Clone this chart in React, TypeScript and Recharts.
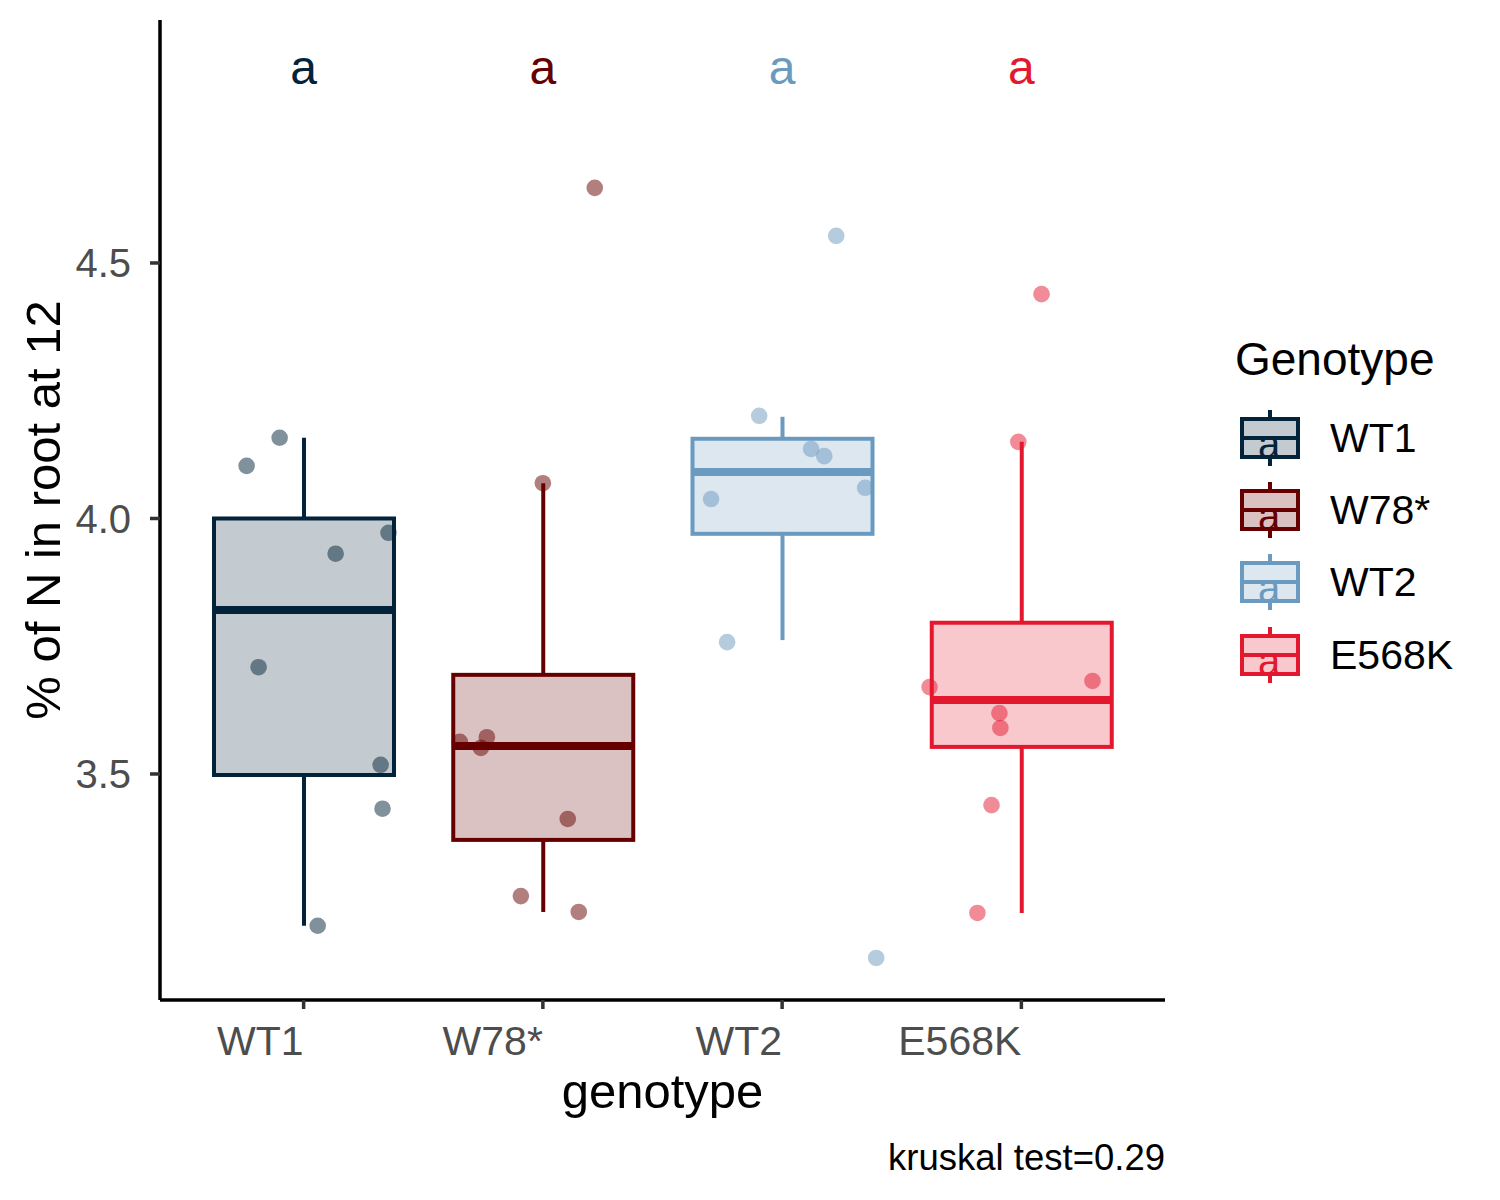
import React from "react";
import { ComposedChart, Bar, Scatter, XAxis, YAxis, Label } from "recharts";

const FONT = '"Liberation Sans", Arial, Helvetica, sans-serif';

const genotypes = ["WT1", "W78*", "WT2", "E568K"];
const colors = ["#03233A", "#660000", "#6B9AC0", "#E3182F"];

// box statistics
const whiskerLow = [3.203, 3.23, 3.762, 3.228];
const q1 = [3.498, 3.371, 3.97, 3.553];
const median = [3.821, 3.555, 4.091, 3.645];
const q3 = [4.0, 3.694, 4.156, 3.796];
const whiskerHigh = [4.158, 4.069, 4.199, 4.15];

// jittered observations: [offset from group centre, value]
const wt1Points = [
  [-0.238, 4.103], [-0.1, 4.158], [0.134, 3.931], [0.355, 3.972],
  [-0.188, 3.709], [0.322, 3.518], [0.33, 3.432], [0.059, 3.203],
];
const w78Points = [
  [0.217, 4.647], [0.0, 4.069], [-0.347, 3.563], [-0.234, 3.572],
  [-0.259, 3.551], [0.104, 3.412], [-0.092, 3.261], [0.15, 3.23],
];
const wt2Points = [
  [0.226, 4.553], [-0.096, 4.201], [0.121, 4.136], [0.176, 4.122],
  [0.347, 4.06], [-0.297, 4.038], [-0.23, 3.758], [0.393, 3.14],
];
const e568kPoints = [
  [0.084, 4.439], [-0.013, 4.15], [-0.384, 3.67], [0.297, 3.682],
  [-0.092, 3.619], [-0.088, 3.59], [-0.125, 3.439], [-0.184, 3.228],
];
const pointSets = [wt1Points, w78Points, wt2Points, e568kPoints];

const letters = ["a", "a", "a", "a"];
const letterY = 4.878;
const yTicks = [3.5, 4.0, 4.5];
const yDomain = [3.0577, 4.9755];
const caption = "kruskal test=0.29";

const boxRows = genotypes.map((g, i) => ({
  genotype: g,
  lower: [whiskerLow[i], q1[i]],
  box: [q1[i], q3[i]],
  upper: [q3[i], whiskerHigh[i]],
}));
const medianRows = median.map((m, i) => ({ x: i + 1, y: m, g: i }));
const letterRows = letters.map((l, i) => ({ x: i + 1, y: letterY, g: i, label: l }));
const pointRows = pointSets.map((pts, i) =>
  pts.map(([dx, v]) => ({ x: i + 1 + dx, y: v }))
);

const BOX_W = 180;

const colorOf = (payload: any) => colors[genotypes.indexOf(payload?.genotype)] ?? "#000";

const WhiskerShape = (props: any) => {
  const { x, y, width, height, payload } = props;
  const cx = x + width / 2;
  const top = Math.min(y, y + height);
  const bottom = Math.max(y, y + height);
  return <line x1={cx} x2={cx} y1={top} y2={bottom} stroke={colorOf(payload)} strokeWidth={4} />;
};

const BoxShape = (props: any) => {
  const { x, y, width, height, payload } = props;
  const c = colorOf(payload);
  return (
    <rect
      x={x}
      y={Math.min(y, y + height)}
      width={width}
      height={Math.abs(height)}
      fill={c}
      fillOpacity={0.24}
      stroke={c}
      strokeWidth={4}
    />
  );
};

const MedianShape = (props: any) => {
  const { cx, cy, payload } = props;
  return (
    <line
      x1={cx - BOX_W / 2}
      x2={cx + BOX_W / 2}
      y1={cy}
      y2={cy}
      stroke={colors[payload.g]}
      strokeWidth={8}
    />
  );
};

const LetterShape = (props: any) => {
  const { cx, cy, payload } = props;
  return (
    <text
      x={cx}
      y={cy}
      dy="0.3em"
      textAnchor="middle"
      fontSize={48}
      fontFamily={FONT}
      fill={colors[payload.g]}
    >
      {payload.label}
    </text>
  );
};

const pointShape = (color: string) => (props: any) => (
  <circle cx={props.cx} cy={props.cy} r={8.3} fill={color} fillOpacity={0.5} />
);

const XTick = (props: any) => {
  const { x, y, payload } = props;
  return (
    <text x={x} y={y} dy="0.71em" textAnchor="end" fontSize={41} fill="#4D4D4D" fontFamily={FONT}>
      {payload.value}
    </text>
  );
};

const XTitle = (props: any) => {
  const vb = props.viewBox ?? { x: 160, y: 1000, width: 1005, height: 120 };
  return (
    <text x={vb.x + vb.width / 2} y={1108} textAnchor="middle" fontSize={49} fill="#000" fontFamily={FONT}>
      genotype
    </text>
  );
};

const YTitle = (props: any) => {
  const vb = props.viewBox ?? { x: 80, y: 20, width: 80, height: 980 };
  const cx = 60;
  const cy = vb.y + vb.height / 2;
  return (
    <text
      x={cx}
      y={cy}
      transform={`rotate(-90 ${cx} ${cy})`}
      textAnchor="middle"
      fontSize={49}
      fill="#000"
      fontFamily={FONT}
    >
      % of N in root at 12
    </text>
  );
};

function LegendOverlay() {
  const rowY = [438, 510, 582, 655];
  return (
    <svg
      width={1500}
      height={1200}
      style={{ position: "absolute", left: 0, top: 0, pointerEvents: "none" }}
    >
      <text x={1235} y={375} fontSize={46} fontFamily={FONT} fill="#000">
        Genotype
      </text>
      {genotypes.map((g, i) => {
        const cy = rowY[i];
        const c = colors[i];
        return (
          <g key={g}>
            <line x1={1270} x2={1270} y1={cy - 28} y2={cy - 19} stroke={c} strokeWidth={4} />
            <line x1={1270} x2={1270} y1={cy + 19} y2={cy + 28} stroke={c} strokeWidth={4} />
            <rect x={1242} y={cy - 19} width={56} height={38} fill={c} fillOpacity={0.24} stroke={c} strokeWidth={4} />
            <line x1={1242} x2={1298} y1={cy} y2={cy} stroke={c} strokeWidth={4} />
            <text x={1269} y={cy + 20} textAnchor="middle" fontSize={40} fontFamily={FONT} fill={c}>
              a
            </text>
            <text x={1330} y={cy + 14} fontSize={41} fontFamily={FONT} fill="#000">
              {g}
            </text>
          </g>
        );
      })}
      <text x={1165} y={1170} textAnchor="end" fontSize={36.5} fontFamily={FONT} fill="#000">
        {caption}
      </text>
    </svg>
  );
}

export default function App() {
  return (
    <div style={{ position: "absolute", left: 0, top: 0, width: 1500, height: 1200, background: "#fff" }}>
      <ComposedChart
        width={1500}
        height={1200}
        data={boxRows}
        margin={{ top: 20, right: 335, bottom: 80, left: 80 }}
        barGap={-BOX_W}
      >
        <XAxis
          xAxisId="cat"
          dataKey="genotype"
          type="category"
          height={120}
          padding={{ left: 24, right: 24 }}
          axisLine={{ stroke: "#000", strokeWidth: 3.5 }}
          tickLine={{ stroke: "#333", strokeWidth: 3.5 }}
          tickSize={9}
          tickMargin={17}
          tick={<XTick />}
          interval={0}
        >
          <Label content={<XTitle />} />
        </XAxis>
        <XAxis xAxisId="num" type="number" dataKey="x" domain={[0.4, 4.6]} hide height={0} allowDataOverflow />
        <YAxis
          type="number"
          width={80}
          domain={yDomain}
          ticks={yTicks}
          allowDataOverflow
          tickFormatter={(v: number) => v.toFixed(1)}
          axisLine={{ stroke: "#000", strokeWidth: 3.5 }}
          tickLine={{ stroke: "#333", strokeWidth: 3.5 }}
          tickSize={10}
          tickMargin={19}
          tick={{ fill: "#4D4D4D", fontSize: 40, fontFamily: FONT }}
        >
          <Label content={<YTitle />} />
        </YAxis>

        <Bar xAxisId="cat" dataKey="lower" barSize={BOX_W} shape={<WhiskerShape />} isAnimationActive={false} />
        <Bar xAxisId="cat" dataKey="upper" barSize={BOX_W} shape={<WhiskerShape />} isAnimationActive={false} />
        <Bar xAxisId="cat" dataKey="box" barSize={BOX_W} shape={<BoxShape />} isAnimationActive={false} />

        <Scatter xAxisId="num" data={medianRows} dataKey="y" shape={<MedianShape />} isAnimationActive={false} />
        {pointRows.map((rows, i) => (
          <Scatter
            key={genotypes[i]}
            xAxisId="num"
            data={rows}
            dataKey="y"
            shape={pointShape(colors[i])}
            isAnimationActive={false}
          />
        ))}
        <Scatter xAxisId="num" data={letterRows} dataKey="y" shape={<LetterShape />} isAnimationActive={false} />
      </ComposedChart>
      <LegendOverlay />
    </div>
  );
}
